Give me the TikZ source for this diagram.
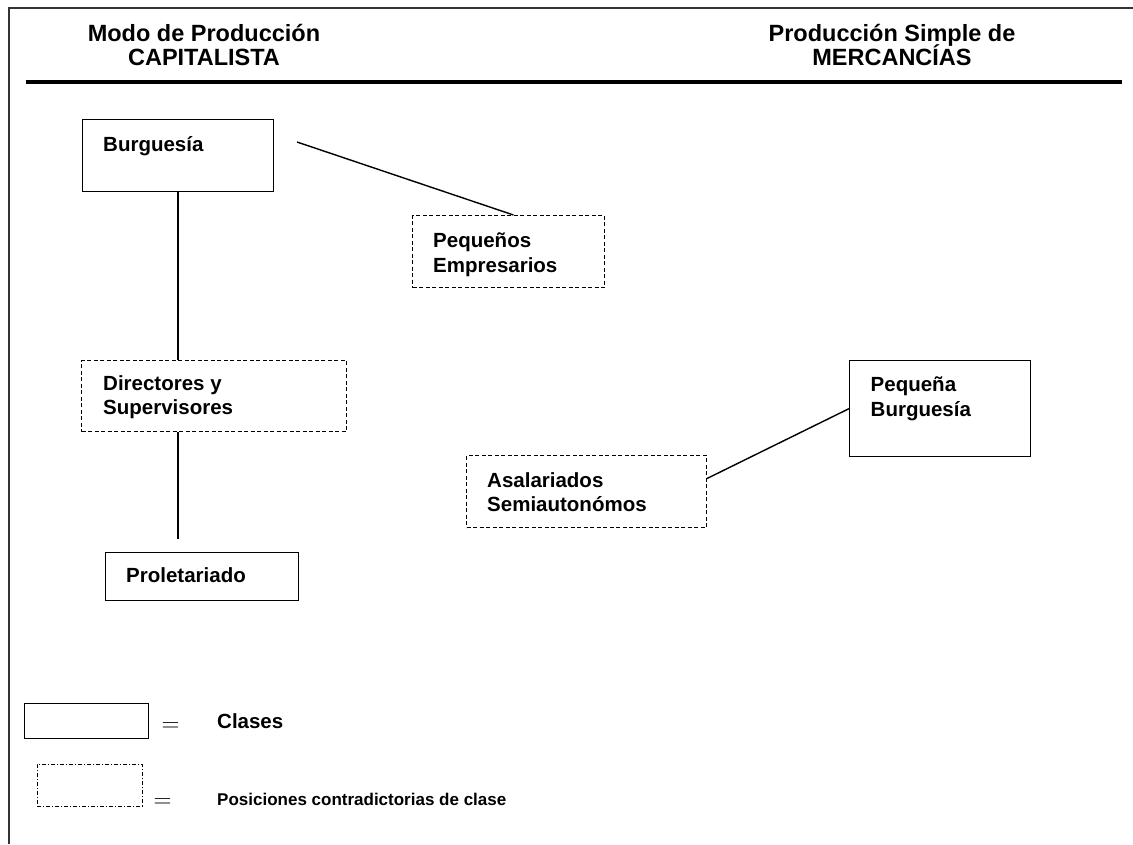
\documentclass[tikz,border=0pt]{standalone}
\usepackage{fontspec}
\setmainfont{Liberation Sans}
\usetikzlibrary{calc}
\newcommand\sinlineskip{\lineskiplimit=-20pt\relax}

\begin{document}
\begin{tikzpicture}[x=1pt,y=-1pt,
    clase/.style={draw=black, line width=1.3pt, anchor=north west, inner sep=0pt},
    contra/.style={clase, line width=1pt, dash pattern=on 4pt off 2.5pt},
    etiq/.style={anchor=north west, inner sep=0pt, align=left,
        font=\bfseries\fontsize{20.5}{24.5}\selectfont},
    titulo/.style={anchor=north, inner sep=0pt, align=center,
        font=\bfseries\fontsize{23.5}{24}\selectfont\sinlineskip},
    enlace/.style={line width=1.4pt},
    igual/.style={inner sep=0pt, font=\fontsize{23}{23}\selectfont}]
    \useasboundingbox (0,0) rectangle (1133,844);

    \draw[line width=2.2pt, black!80] (9,844) -- (9,8) -- (1133,8);

    \node[titulo] (modo) at (204,24) {Modo de Producción\\CAPITALISTA};
    \node[titulo] (simple) at (892,24) {Producción Simple de\\MERCANCÍAS};
    \draw[line width=4pt] (26,82) -- (1122,82);

    \node[clase, minimum width=191, minimum height=72] (burg) at (82,119) {};
    \node[etiq] (burgT) at ([shift={(21,17)}]burg.north west) {Burguesía};

    \node[contra, minimum width=192, minimum height=72] (pe) at (412,215) {};
    \node[etiq] (peT) at ([shift={(21,18)}]pe.north west) {Pequeños\\Empresarios};

    \node[contra, minimum width=265, minimum height=71] (dir) at (81,360) {};
    \node[etiq] (dirT) at ([shift={(22,15)}]dir.north west) {Directores y\\Supervisores};

    \node[clase, minimum width=193, minimum height=48] (prol) at (105,552) {};
    \node[etiq] (prolT) at ([shift={(21,15)}]prol.north west) {Proletariado};

    \node[clase, minimum width=181, minimum height=96] (pb) at (849,360) {};
    \node[etiq] (pbT) at ([shift={(21.5,17)}]pb.north west) {Pequeña\\Burguesía};

    \node[contra, minimum width=240, minimum height=72] (as) at (466,455) {};
    \node[etiq] (asT) at ([shift={(21,17)}]as.north west) {Asalariados\\Semiautonómos};

    \coordinate (burgE) at (297,142);
    \draw[enlace] (burg.south) -- (burg.south |- dir.north);
    \draw[enlace, shorten >=13pt] (burg.south |- dir.south) -- (burg.south |- prol.north);
    \draw[enlace] (burgE) -- ([xshift=5pt]pe.north);
    \draw[enlace] ([yshift=13pt]as.east) -- (pb.west);

    \node[clase, line width=1pt, minimum width=124, minimum height=35] (legA) at (24,703) {};
    \node[igual] (eqA) at (170.5,727) {$=$};
    \node[anchor=base west, inner sep=0pt, font=\bfseries\fontsize{20.5}{24.5}\selectfont] (legAT) at (217,728.3) {Clases};

    \node[clase, line width=0.9pt, dash pattern=on 4pt off 2pt on 1pt off 2pt,
        minimum width=105, minimum height=42] (legB) at (37,764) {};
    \node[igual] (eqB) at (162.5,803) {$=$};
    \node[anchor=base west, inner sep=0pt, font=\bfseries\fontsize{17}{20}\selectfont] (legBT) at (217,805) {Posiciones contradictorias de clase};
\end{tikzpicture}
\end{document}
